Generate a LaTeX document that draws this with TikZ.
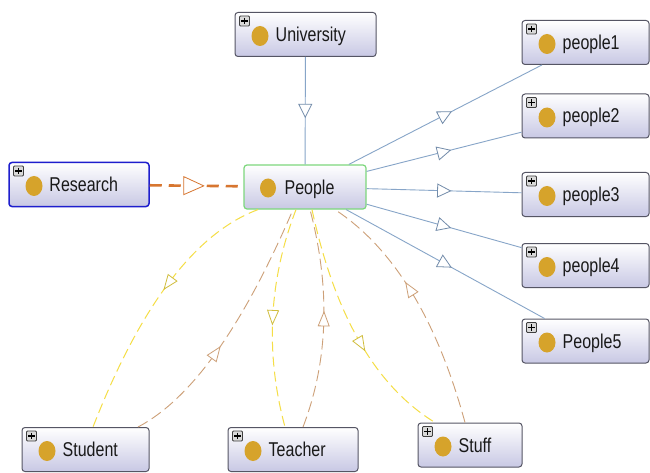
\documentclass[tikz,border=0pt]{standalone}
\usepackage{fontspec}
\usepackage{graphicx}
\newfontfamily\lblfont{Liberation Sans}
\usetikzlibrary{decorations.markings}
\definecolor{gold}{RGB}{214,163,43}
\definecolor{nodebot}{RGB}{200,200,228}
\definecolor{nodeedge}{RGB}{85,85,100}
\definecolor{isablue}{RGB}{135,165,200}
\definecolor{relyel}{RGB}{245,222,70}
\definecolor{reltan}{RGB}{205,160,120}
\definecolor{resor}{RGB}{215,118,48}
\definecolor{resblue}{RGB}{30,30,205}
\definecolor{pgreen}{RGB}{125,215,125}
\newcommand\lblx[1]{\scalebox{1}[1.25]{#1}}
\tikzset{
  obox/.style={rectangle, rounded corners=3pt, draw=nodeedge, line width=1pt,
    top color=white, bottom color=nodebot, minimum height=44pt, inner sep=0pt},
  iconplus/.style={path picture={
    \fill[gold] ([xshift=25pt,yshift=-1.5pt]path picture bounding box.west) ellipse (8.5pt and 10pt);
    \draw[fill=gray!30, draw=gray!50!black, line width=0.8pt, rounded corners=1pt]
      ([xshift=4.5pt,yshift=-3.5pt]path picture bounding box.north west) rectangle ++(10pt,-10pt);
    \draw[black, line width=1.3pt]
      ([xshift=9.5pt,yshift=-5.2pt]path picture bounding box.north west) -- ++(0pt,-6.6pt);
    \draw[black, line width=1.3pt]
      ([xshift=6.2pt,yshift=-8.5pt]path picture bounding box.north west) -- ++(6.6pt,0pt);
  }},
  iconplain/.style={path picture={
    \fill[gold] ([xshift=24pt,yshift=-1pt]path picture bounding box.west) ellipse (8pt and 9.5pt);
  }},
  lbl/.style={anchor=base west, inner sep=0pt, font=\lblfont\fontsize{16pt}{18pt}\selectfont, text=black!90},
  tri/.style n args={4}{postaction={decorate, decoration={markings,
    mark=at position #1 with {\filldraw[fill=white, draw=#4, solid, line width=0.8pt]
      (#2/2,0pt) -- (-#2/2,#3/2) -- (-#2/2,-#3/2) -- cycle;}}}},
  isa/.style={draw=isablue, line width=0.9pt, tri={0.5}{13pt}{13pt}{isablue!85!black}},
  resline/.style={draw=resor, line width=2.6pt, dash pattern=on 12pt off 7pt, tri={0.47}{20pt}{18pt}{resor}},
  yel/.style={draw=relyel, line width=1pt, dash pattern=on 10pt off 5pt, tri={#1}{14pt}{11pt}{relyel!85!black}},
  yel/.default=0.5,
  tanl/.style={draw=reltan, line width=0.9pt, dash pattern=on 11pt off 5pt, tri={#1}{14pt}{11pt}{reltan}},
  tanl/.default=0.5,
}
\newcommand\ontnode[6]{%
  \node[obox, minimum width=#4pt, #6] (#1) at (#2,#3) {};
  \node[lbl] (#1-t) at ([xshift=41pt,yshift=-7pt]#1.west) {\lblx{#5}};
}
\begin{document}
\begin{tikzpicture}[x=1pt, y=-1pt]
\fill[white] (0,0) rectangle (650,473);
\useasboundingbox (0,0) rectangle (650,473);

\ontnode{univ}{305.5}{34.5}{141}{University}{iconplus}
\ontnode{res}{79}{184.5}{140}{Research}{iconplus, draw=resblue, line width=1.5pt}
\ontnode{people}{305}{187}{122}{People}{iconplain, draw=pgreen, line width=1.2pt}
\ontnode{p1}{585.5}{42.5}{127}{people1}{iconplus}
\ontnode{p2}{585.5}{116}{127}{people2}{iconplus}
\ontnode{p3}{585.5}{194.5}{127}{people3}{iconplus}
\ontnode{p4}{585.5}{265.5}{127}{people4}{iconplus}
\ontnode{p5}{585.5}{341}{127}{People5}{iconplus}
\ontnode{stud}{85.5}{449.5}{127}{Student}{iconplus}
\ontnode{teach}{293}{449.5}{130}{Teacher}{iconplus}
\ontnode{stuff}{470}{445}{104}{Stuff}{iconplus}

% subclass links
\draw[isa] (univ) -- (people);
\draw[isa] (people) -- (p1);
\draw[isa] (people) -- (p2);
\draw[isa] (people) -- (p3);
\draw[isa] (people) -- (p4);
\draw[isa] (people) -- (p5);

% research link
\draw[resline] (res) -- (people);

% object property links
\draw[yel=0.42] ([xshift=-47pt]people.south) .. controls (195.3,233) and (140.3,305.7) .. ([xshift=7.5pt]stud.north);
\draw[tanl=0.4] ([xshift=52.5pt]stud.north) .. controls (191.3,399) and (243,326.3) .. ([xshift=-12pt]people.south);
\draw[yel] ([xshift=-9pt]people.south) .. controls (268.7,280.3) and (265,353) .. ([xshift=-8pt]teach.north);
\draw[tanl] ([xshift=10pt]teach.north) .. controls (328.3,361) and (330.7,288.3) .. ([xshift=5pt]people.south);
\draw[yel=0.57] ([xshift=7pt]people.south) .. controls (334.7,315) and (375.7,386.3) .. ([xshift=-35pt]stuff.north);
\draw[tanl=0.57] ([xshift=-5pt]stuff.north) .. controls (437,319.7) and (393.7,248.3) .. ([xshift=30pt]people.south);
\end{tikzpicture}
\end{document}
